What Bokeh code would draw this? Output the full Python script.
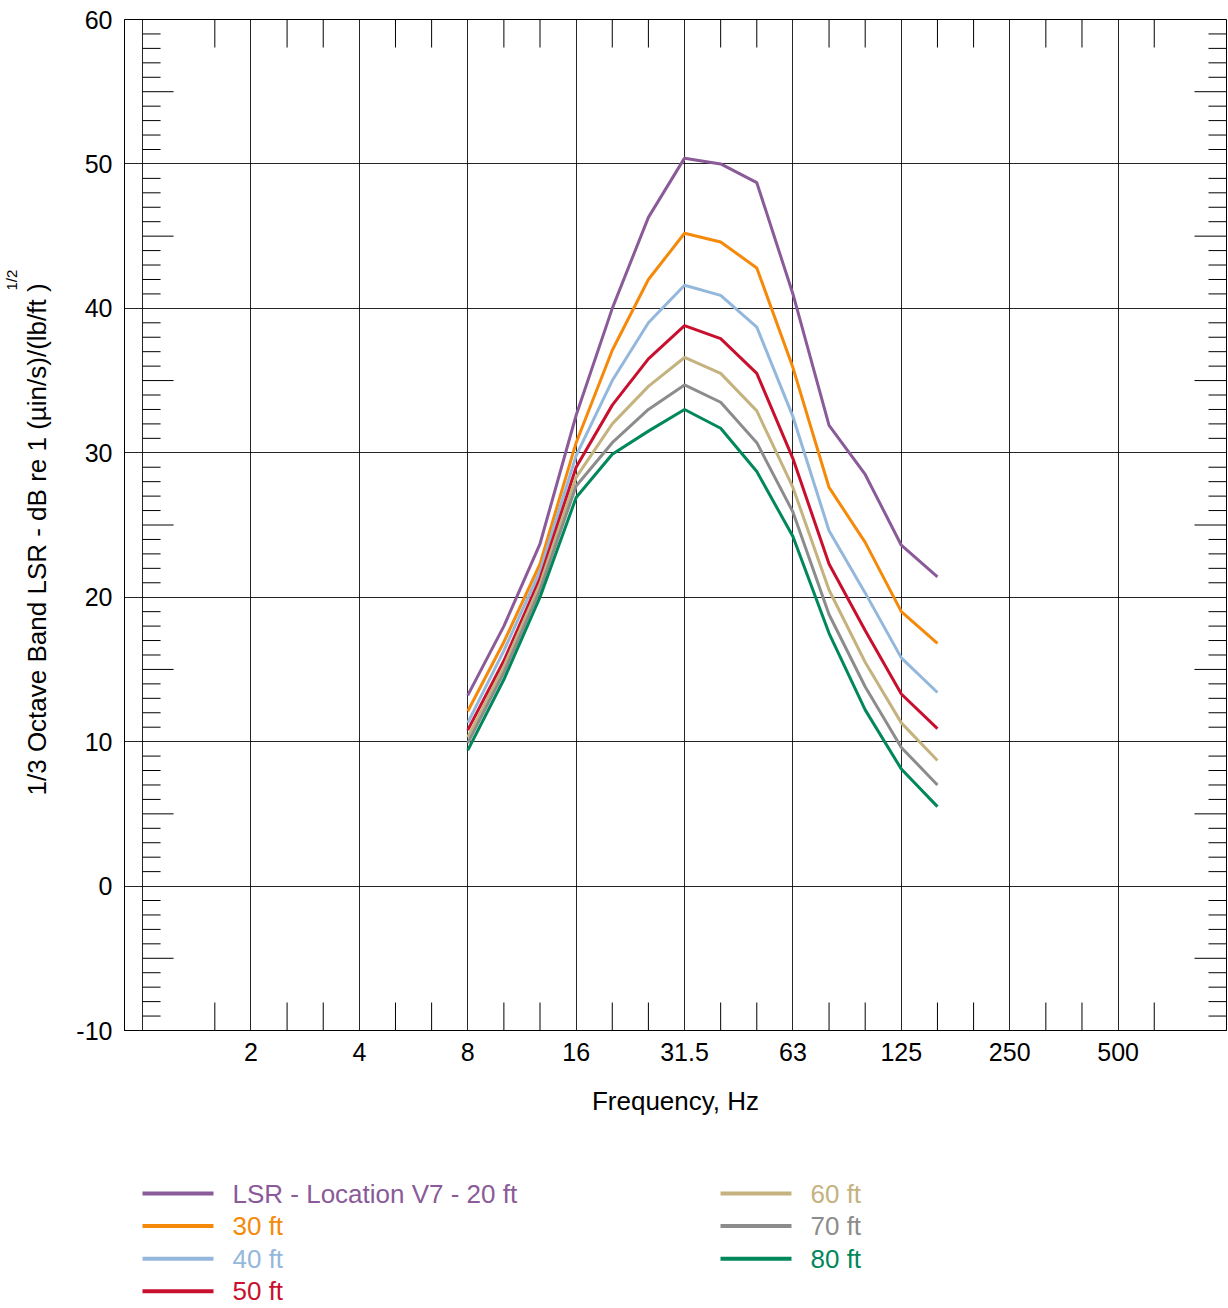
import math
from bokeh.plotting import figure
from bokeh.layouts import column
from bokeh.models import Range1d, FixedTicker, Title, ColumnDataSource
from bokeh.core.properties import value
from bokeh.embed import file_html
from bokeh.resources import INLINE

# ---------------- data ----------------
freqs = [8, 10, 12.5, 16, 20, 25, 31.5, 40, 50, 63, 80, 100, 125, 160]
series_names = ["LSR - Location V7 - 20 ft", "30 ft", "40 ft", "50 ft", "60 ft", "70 ft", "80 ft"]
series_colors = ["#8A5A99", "#F5890A", "#94B7DC", "#C8102E", "#C4B27F", "#8C8C8C", "#00875A"]
lsr_20ft = [13.2, 18.0, 23.7, 32.6, 40.0, 46.3, 50.4, 50.0, 48.7, 41.0, 31.9, 28.5, 23.6, 21.4]
lsr_30ft = [12.1, 16.9, 22.3, 30.7, 37.1, 42.0, 45.2, 44.6, 42.8, 35.9, 27.6, 23.8, 19.0, 16.8]
lsr_40ft = [11.3, 16.3, 21.8, 29.8, 35.0, 39.0, 41.6, 40.9, 38.7, 32.5, 24.6, 20.3, 15.8, 13.4]
lsr_50ft = [10.8, 15.6, 21.3, 29.0, 33.3, 36.5, 38.8, 37.9, 35.5, 29.6, 22.3, 17.7, 13.3, 10.9]
lsr_60ft = [10.3, 15.2, 20.9, 28.3, 32.0, 34.6, 36.6, 35.5, 32.9, 27.6, 20.5, 15.5, 11.3, 8.7]
lsr_70ft = [9.9, 14.8, 20.5, 27.7, 30.7, 33.0, 34.7, 33.5, 30.7, 25.9, 18.8, 13.8, 9.6, 7.0]
lsr_80ft = [9.4, 14.3, 20.0, 26.9, 29.9, 31.5, 33.0, 31.7, 28.7, 24.2, 17.5, 12.2, 8.1, 5.5]
series_values = [lsr_20ft, lsr_30ft, lsr_40ft, lsr_50ft, lsr_60ft, lsr_70ft, lsr_80ft]
tick_freqs = [2, 4, 8, 16, 31.5, 63, 125, 250, 500]
tick_labels = ["2", "4", "8", "16", "31.5", "63", "125", "250", "500"]
y_ticks = [-10, 0, 10, 20, 30, 40, 50, 60]
y_tick_labels = ["-10", "0", "10", "20", "30", "40", "50", "60"]


def band(f):
    """1/3-octave band number (1 Hz = band 0)."""
    return round(10 * math.log10(f))


FONT = "Liberation Sans"
x_lo, x_hi = -0.5, 30
y_lo, y_hi = -10, 60
W, H = 1228, 1140
BL, BR, BT, BB = 124, 2, 19, 110
px_per_band = (W - BL - BR) / (x_hi - x_lo)
px_per_db = (H - BT - BB) / (y_hi - y_lo)

p = figure(width=W, height=H, x_range=Range1d(x_lo, x_hi), y_range=Range1d(y_lo, y_hi),
           output_backend="svg", toolbar_location=None,
           min_border_left=BL, min_border_right=BR, min_border_top=BT, min_border_bottom=BB)
p.outline_line_color = "black"
p.outline_line_width = 1

xt = [band(f) for f in tick_freqs]
p.xaxis.ticker = FixedTicker(ticks=xt, minor_ticks=[])
p.xaxis.major_label_overrides = {t: l for t, l in zip(xt, tick_labels)}
p.yaxis.ticker = FixedTicker(ticks=y_ticks, minor_ticks=[])
p.yaxis.major_label_overrides = {t: l for t, l in zip(y_ticks, y_tick_labels)}
p.xgrid.ticker = FixedTicker(ticks=[0] + xt)
p.ygrid.ticker = FixedTicker(ticks=y_ticks)
for g in (p.xgrid, p.ygrid):
    g.grid_line_color = "black"
    g.grid_line_alpha = 0.85
    g.grid_line_width = 1

for ax in (p.xaxis, p.yaxis):
    ax.major_tick_in = 0
    ax.major_tick_out = 0
    ax.minor_tick_in = 0
    ax.minor_tick_out = 0
    ax.axis_line_color = "black"
    ax.major_label_text_font = FONT
    ax.major_label_text_font_size = "25px"
    ax.major_label_text_color = "black"
    ax.major_label_standoff = 12
    ax.axis_label_text_font = FONT
    ax.axis_label_text_font_size = "26px"
    ax.axis_label_text_font_style = "normal"
    ax.axis_label_text_color = "black"
p.xaxis.major_label_standoff = 12
p.xaxis.axis_label = "Frequency, Hz"
p.xaxis.axis_label_standoff = 22
p.yaxis.axis_label = "1/3 Octave Band LSR - dB re 1  (\u00b5in/s)/(lb/ft    )"
p.yaxis.axis_label_standoff = 21

# superscript of the y title
p.add_layout(Title(text="1/2", text_font=FONT, text_font_size="15px", text_font_style="normal",
                   text_color="black", align="left", offset=740, standoff=0), "left")

# tick marks (top/bottom at 1/3-octave bands, left inner and right at every dB)
minor_x = [n for n in range(2, 29) if n % 3 != 0]
tick_len_x = 28 / px_per_db
p.segment(x0=minor_x, y0=[y_hi] * len(minor_x), x1=minor_x, y1=[y_hi - tick_len_x] * len(minor_x),
          line_color="black", line_width=1)
p.segment(x0=minor_x, y0=[y_lo] * len(minor_x), x1=minor_x, y1=[y_lo + tick_len_x] * len(minor_x),
          line_color="black", line_width=1)
minor_y = [v for v in range(y_lo + 1, y_hi) if v % 10 != 0]
short_len = 18 / px_per_band
lenL = [(31 / px_per_band) if v % 5 == 0 else short_len for v in minor_y]
lenR = [(32 / px_per_band) if v % 5 == 0 else short_len for v in minor_y]
p.segment(x0=[0] * len(minor_y), y0=minor_y, x1=lenL, y1=minor_y, line_color="black", line_width=1)
p.segment(x0=[x_hi] * len(minor_y), y0=minor_y, x1=[x_hi - l for l in lenR], y1=minor_y,
          line_color="black", line_width=1)

# data lines
xs = [band(f) for f in freqs]
for name, color, vals in zip(series_names, series_colors, series_values):
    p.line(xs, vals, line_color=color, line_width=3)

# ---------------- legend figure (frame aligned with main frame) ----------------
LH = 1308 - H
lg = figure(width=W, height=LH, x_range=Range1d(BL, W - BR), y_range=Range1d(LH, 0),
            x_axis_type=None, y_axis_type=None, output_backend="svg", toolbar_location=None,
            min_border_left=BL, min_border_right=BR, min_border_top=0, min_border_bottom=0,
            outline_line_color=None)
lx0, ly0 = [], []
for i in range(len(series_names)):
    col, row = divmod(i, 4)
    lx0.append(142 + col * 578)
    ly0.append(53 + row * 32.6)
src = ColumnDataSource(dict(x0=lx0, x1=[x + 71 for x in lx0], y=ly0, tx=[x + 90 for x in lx0],
                            name=series_names, color=series_colors))
lg.segment(x0="x0", y0="y", x1="x1", y1="y", line_color="color", line_width=4, source=src)
lg.text(x="tx", y="y", text="name", text_color="color", text_font=value(FONT),
        text_font_size="26px", text_baseline="middle", text_align="left", source=src)

layout = column(p, lg, spacing=0)
open("out.html", "w").write(file_html(layout, INLINE))
